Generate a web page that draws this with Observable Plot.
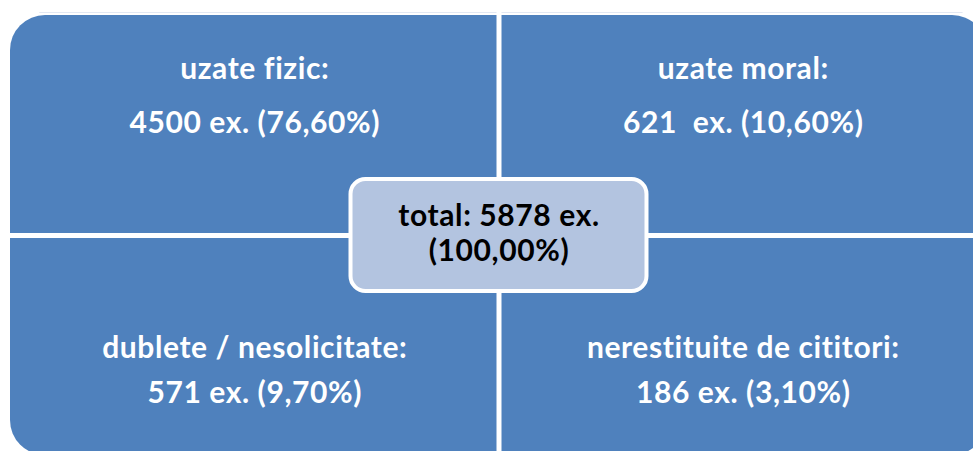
<!DOCTYPE html>
<html><head><meta charset="utf-8">
<script src="https://cdn.jsdelivr.net/npm/d3@7"></script>
<script src="https://cdn.jsdelivr.net/npm/@observablehq/plot@0.6"></script>
<style>
html,body{margin:0;padding:0;background:#fff;overflow:hidden}
svg text{white-space:pre;font-variant-ligatures:none;letter-spacing:0.6px}
</style>
</head><body><div id="chart"></div>
<script>
// Data
const categories = ["uzate fizic", "uzate moral", "dublete / nesolicitate", "nerestituite de cititori"];
const counts = [4500, 621, 571, 186];
const valueLabels = ["4500 ex. (76,60%)", "621  ex. (10,60%)", "571 ex. (9,70%)", "186 ex. (3,10%)"];
const columns = [0, 1, 0, 1];
const rows = [0, 0, 1, 1];
const totalLabel = ["total: 5878 ex.", "(100,00%)"];

const quad = categories.map((c, i) => ({category: c, count: counts[i], value: valueLabels[i], col: columns[i], row: rows[i]}));

const font = "Lato, 'Open Sans', sans-serif";
const blue = "#4F81BD";
const fs = 30;
const common = {x: d => d.col + 0.5, y: "row", textAnchor: "middle", lineAnchor: "bottom", fontWeight: "bold", fontSize: fs, fill: "white"};
const center = {x: () => 1, y: () => 1, text: d => d, textAnchor: "middle", lineAnchor: "bottom", fontWeight: "bold", fontSize: fs, fill: "black"};

const chart = Plot.plot({
  width: 973, height: 451, margin: 0,
  x: {type: "linear", domain: [0, 2], range: [10, 987], axis: null},
  y: {type: "linear", domain: [0, 2], range: [15, 455], axis: null},
  style: {fontFamily: font, background: "white"},
  marks: [
    Plot.ruleY([0], {x1: 0.06, x2: 1.95, dy: -3, stroke: "#E3E8F3", strokeWidth: 1}),
    Plot.rect([quad], {x1: 0, x2: 2, y1: 0, y2: 2, rx: 35, fill: blue}),
    Plot.ruleX([1], {stroke: "white", strokeWidth: 5}),
    Plot.ruleY([1], {stroke: "white", strokeWidth: 5}),
    Plot.text(quad, {...common, filter: d => d.row === 0, dy: 63, text: d => d.category + ":"}),
    Plot.text(quad, {...common, filter: d => d.row === 0, dy: 117, text: "value"}),
    Plot.text(quad, {...common, filter: d => d.row === 1, dy: 122, text: d => d.category + ":"}),
    Plot.text(quad, {...common, filter: d => d.row === 1, dy: 167, text: "value"}),
    Plot.rect([totalLabel], {x1: 1, x2: 1, y1: 1, y2: 1, insetLeft: -148, insetRight: -148, insetTop: -56, insetBottom: -56, rx: 15, fill: "#B3C4E0", stroke: "white", strokeWidth: 4}),
    Plot.text([totalLabel[0]], {...center, dy: -10}),
    Plot.text([totalLabel[1]], {...center, dy: 25}),
  ]
});
document.getElementById("chart").appendChild(chart);
</script>
</body></html>
